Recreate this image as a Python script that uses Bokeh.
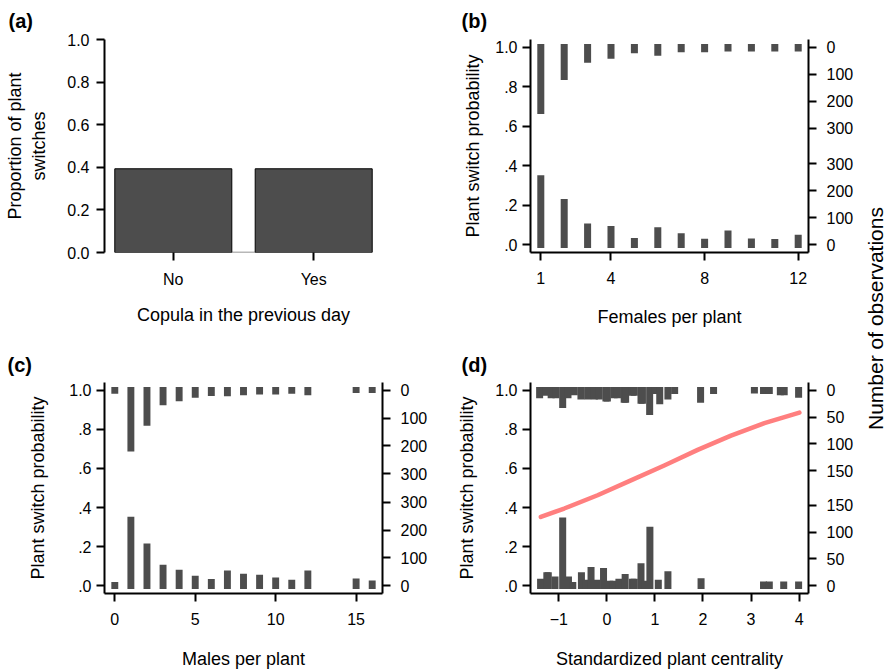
import math
from bokeh.plotting import figure
from bokeh.models import FixedTicker, CustomJSTickFormatter, LinearAxis, Label, Range1d
from bokeh.layouts import row, column
from bokeh.embed import file_html
from bokeh.resources import INLINE

FONT = "Liberation Sans"
BAR_COLOR = "#4D4D4D"
CURVE_COLOR = "#FF7F7F"

# ---------------- data ----------------
# (a)
copula_labels = ["No", "Yes"]
copula_proportion = [0.393, 0.393]
prob_ticks = [0.0, 0.2, 0.4, 0.6, 0.8, 1.0]
prob_labels_a = ["0.0", "0.2", "0.4", "0.6", "0.8", "1.0"]
prob_labels = [".0", ".2", ".4", ".6", ".8", "1.0"]

# (b) females per plant: counts of switches (top) and non-switches (bottom)
females = [1, 2, 3, 4, 5, 6, 7, 8, 9, 10, 11, 12]
females_switch_n = [247, 121, 57, 42, 22, 31, 18, 18, 15, 15, 15, 15]
females_stay_n = [257, 169, 78, 69, 25, 64, 42, 22, 52, 23, 21, 37]
females_ticks = [1, 4, 8, 12]
females_count_ticks = [0, 100, 200, 300]

# (c) males per plant
males = [0, 1, 2, 3, 4, 5, 6, 7, 8, 9, 10, 11, 12, 15, 16]
males_switch_n = [12, 220, 127, 54, 39, 27, 20, 21, 18, 15, 15, 12, 18, 10, 10]
males_stay_n = [13, 248, 152, 75, 57, 36, 24, 55, 43, 39, 29, 21, 55, 26, 19]
males_ticks = [0, 5, 10, 15]
males_count_ticks = [0, 100, 200, 300]

# (d) standardized plant centrality
centrality_switch_x = [-1.40, -1.27, -1.16, -1.06, -0.92, -0.81, -0.68, -0.54, -0.40, -0.26,
                       -0.16, -0.02, 0.01, 0.15, 0.22, 0.36, 0.39, 0.53, 0.57, 0.71, 0.74,
                       0.89, 1.00, 1.10, 1.27, 1.41, 1.95, 2.22, 3.07, 3.26, 3.38, 3.61,
                       3.69, 3.99]
centrality_switch_n = [15, 10, 15, 15, 33, 15, 9, 17, 17, 17,
                       17, 21, 21, 15, 15, 23, 23, 10, 10, 25, 25,
                       46, 7, 26, 17, 7, 23, 7, 6, 7, 7, 9,
                       9, 14]
centrality_stay_x = [-1.38, -1.25, -1.22, -1.08, -0.92, -0.80, -0.71, -0.53, -0.43, -0.33,
                     -0.21, -0.07, 0.06, 0.13, 0.25, 0.38, 0.53, 0.57, 0.71, 0.79,
                     0.895, 1.07, 1.27, 1.96, 3.26, 3.38, 3.68, 3.99]
centrality_stay_n = [13, 25, 25, 17, 127, 17, 7, 25, 11, 35,
                     11, 33, 9, 9, 13, 22, 13, 13, 42, 9,
                     110, 11, 27, 14, 8, 8, 8, 8]
centrality_ticks = [-1, 0, 1, 2, 3, 4]
centrality_tick_labels = ["\u22121", "0", "1", "2", "3", "4"]
centrality_count_ticks = [0, 50, 100, 150]
fit_x = [-1.375, -0.889, -0.194, 0.5, 1.194, 1.889, 2.583, 3.278, 4.007]
fit_p = [0.352, 0.395, 0.463, 0.539, 0.615, 0.695, 0.768, 0.832, 0.886]

# count -> probability scale of the marginal histograms
K_B = 0.001366
K_C = 0.001424
K_D = 0.002746
EXT = 0.017


def base_fig(w, h, xr, yr, left, right, top, bottom):
    p = figure(width=w, height=h, x_range=Range1d(*xr), y_range=Range1d(*yr),
               output_backend="svg", toolbar_location=None,
               min_border_left=left, min_border_right=right,
               min_border_top=top, min_border_bottom=bottom)
    p.grid.visible = False
    p.outline_line_color = None
    p.background_fill_color = "white"
    p.border_fill_color = "white"
    return p


def label_formatter(ticks, labels):
    return CustomJSTickFormatter(args=dict(tv=list(ticks), lv=list(labels)), code="""
        for (let i = 0; i < tv.length; i++) {
            if (Math.abs(tv[i] - tick) < 1e-9) { return lv[i]; }
        }
        return String(tick);
    """)


def count_formatter(k):
    return CustomJSTickFormatter(args=dict(k=k), code="""
        const c = tick > 0.5 ? (1 - tick) / k : tick / k;
        return String(Math.round(c));
    """)


def style_axis(ax, ticks, labels=None, standoff=5, axis_label=None, label_standoff=10):
    ax.ticker = FixedTicker(ticks=list(ticks))
    if labels is not None:
        ax.formatter = label_formatter(ticks, labels)
    ax.major_label_text_font = FONT
    ax.major_label_text_font_size = "16px"
    ax.major_label_text_color = "black"
    ax.major_label_standoff = standoff
    ax.major_tick_in = 0
    ax.major_tick_out = 8
    ax.minor_tick_in = 0
    ax.minor_tick_out = 0
    ax.major_tick_line_color = "black"
    ax.major_tick_line_width = 2
    ax.axis_line_color = "black"
    ax.axis_line_width = 2
    if axis_label:
        ax.axis_label = axis_label
        ax.axis_label_text_font = FONT
        ax.axis_label_text_font_size = "18px"
        ax.axis_label_text_font_style = "normal"
        ax.axis_label_text_color = "black"
        ax.axis_label_standoff = label_standoff


def add_count_axis(p, count_ticks, k):
    ticks = [1 - c * k for c in count_ticks] + [c * k for c in count_ticks]
    ax = LinearAxis()
    style_axis(ax, ticks, standoff=10)
    ax.formatter = count_formatter(k)
    p.add_layout(ax, "right")


def add_hist_top(p, xs, switch_n, k, width):
    p.vbar(x=xs, width=width, top=1 + EXT, bottom=[1 - c * k for c in switch_n],
           fill_color=BAR_COLOR, line_color=None)


def add_hist_bottom(p, xs, stay_n, k, width):
    p.vbar(x=xs, width=width, bottom=-EXT, top=[c * k for c in stay_n],
           fill_color=BAR_COLOR, line_color=None)


def panel_label(p, text, offset, standoff):
    p.title.text = text
    p.title.align = "left"
    p.title.offset = offset
    p.title.standoff = standoff
    p.title.text_font = FONT
    p.title.text_font_size = "20px"
    p.title.text_font_style = "bold"
    p.title.text_color = "black"


# ---------------- (a) ----------------
xa = [0.7 + 1.2 * i for i in range(len(copula_labels))]
pa = base_fig(440, 330, (xa[0] - 0.5 - 0.088, xa[-1] + 0.5 + 0.088), (0, 1), 104, 58, 39, 78)
pa.segment(x0=[xa[0] - 0.5], y0=[0], x1=[xa[-1] + 0.5], y1=[0], line_color="#707070", line_width=1.5)
pa.vbar(x=xa, width=1.0, top=copula_proportion, bottom=0,
        fill_color=BAR_COLOR, line_color="black", line_width=1)
style_axis(pa.yaxis[0], prob_ticks, prob_labels_a, standoff=7,
           axis_label="Proportion of plant\nswitches", label_standoff=15)
style_axis(pa.xaxis[0], xa, copula_labels, standoff=10,
           axis_label="Copula in the previous day", label_standoff=14)
pa.xaxis[0].axis_line_color = None
panel_label(pa, "(a)", -96, 15)

# ---------------- (b) ----------------
pb = base_fig(420, 330, (0.56, 12.44), (-0.04, 1.04), 90, 52, 39, 78)
add_hist_top(pb, females, females_switch_n, K_B, 0.3)
add_hist_bottom(pb, females, females_stay_n, K_B, 0.3)
style_axis(pb.yaxis[0], prob_ticks, prob_labels, standoff=5,
           axis_label="Plant switch probability", label_standoff=9)
style_axis(pb.xaxis[0], females_ticks, standoff=11,
           axis_label="Females per plant", label_standoff=20)
add_count_axis(pb, females_count_ticks, K_B)
panel_label(pb, "(b)", -69, 15)

# ---------------- (c) ----------------
pc = base_fig(440, 341, (-0.64, 16.64), (-0.04, 1.04), 104, 58, 52, 77)
add_hist_top(pc, males, males_switch_n, K_C, 0.43)
add_hist_bottom(pc, males, males_stay_n, K_C, 0.43)
style_axis(pc.yaxis[0], prob_ticks, prob_labels, standoff=5,
           axis_label="Plant switch probability", label_standoff=18)
style_axis(pc.xaxis[0], males_ticks, standoff=11,
           axis_label="Males per plant", label_standoff=21)
add_count_axis(pc, males_count_ticks, K_C)
panel_label(pc, "(c)", -97, 14)

# ---------------- (d) ----------------
pd_ = base_fig(420, 341, (-1.59, 4.196), (-0.04, 1.04), 90, 52, 52, 77)
add_hist_top(pd_, centrality_switch_x, centrality_switch_n, K_D, 0.146)
add_hist_bottom(pd_, centrality_stay_x, centrality_stay_n, K_D, 0.146)
pd_.line(fit_x, fit_p, line_color=CURVE_COLOR, line_width=4.5, line_cap="round", line_join="round")
style_axis(pd_.yaxis[0], prob_ticks, prob_labels, standoff=5,
           axis_label="Plant switch probability", label_standoff=15)
style_axis(pd_.xaxis[0], centrality_ticks, centrality_tick_labels, standoff=11,
           axis_label="Standardized plant centrality", label_standoff=21)
add_count_axis(pd_, centrality_count_ticks, K_D)
panel_label(pd_, "(d)", -69, 14)

# ---------------- shared right label ----------------
pl = figure(width=26, height=671, x_range=Range1d(0, 1), y_range=Range1d(0, 1),
            output_backend="svg", toolbar_location=None, min_border=0,
            x_axis_location=None, y_axis_location=None)
pl.grid.visible = False
pl.outline_line_color = None
pl.add_layout(Label(x=14.5, y=318, x_units="canvas", y_units="canvas",
                    text="Number of observations", angle=math.pi / 2,
                    text_align="center", text_baseline="middle",
                    text_font=FONT, text_font_size="21px", text_color="black"))

layout = row(column(pa, pc), column(pb, pd_), pl)
open("out.html", "w").write(file_html(layout, INLINE))
